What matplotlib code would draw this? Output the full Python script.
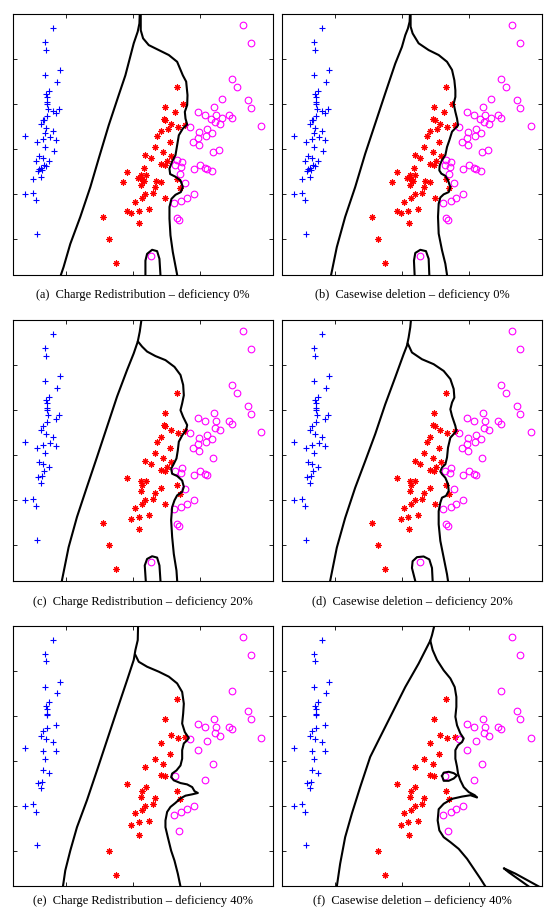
import numpy as np
import matplotlib
matplotlib.use("Agg")
import matplotlib.pyplot as plt

# ---- scatter data (shared by all panels, some points missing at 20% / 40%) ----
blue_x = [0.81, 0.68, 0.70, 0.68, 0.905, 0.86, 0.75, 0.70, 0.72, 0.715, 0.72, 0.73, 0.81, 0.855, 0.90,
          0.72, 0.65, 0.67, 0.62, 0.70, 0.39, 0.69, 0.805, 0.57, 0.65, 0.765, 0.855, 0.69, 0.825, 0.59,
          0.55, 0.655, 0.75, 0.67, 0.62, 0.70, 0.59, 0.64, 0.58, 0.63, 0.50, 0.385, 0.51, 0.555, 0.57]
blue_y = [5.69, 5.37, 5.21, 4.64, 4.76, 4.50, 4.30, 4.22, 4.15, 4.04, 4.01, 3.89, 3.84, 3.80, 3.89,
          3.74, 3.66, 3.64, 3.56, 3.48, 3.29, 3.35, 3.41, 3.17, 3.23, 3.28, 3.21, 3.04, 2.96, 2.85,
          2.74, 2.80, 2.74, 2.65, 2.59, 2.62, 2.56, 2.53, 2.52, 2.39, 2.34, 2.00, 2.04, 1.87, 1.13]

red_x = [2.66, 2.75, 2.48, 2.63, 2.465, 2.49, 2.57, 2.68, 2.53, 2.42, 2.37, 2.555, 2.33, 2.46, 2.19,
         2.27, 2.58, 2.51, 2.42, 2.48, 2.175, 1.92, 2.125, 2.20, 2.08, 2.14, 2.17, 1.85, 2.345, 2.425,
         2.12, 2.33, 2.665, 2.705, 2.30, 2.19, 2.14, 2.49, 2.03, 1.92, 1.98, 2.09, 2.24, 2.10, 1.55,
         1.64, 1.75, 2.79]
red_y = [4.37, 4.01, 3.94, 3.82, 3.67, 3.64, 3.57, 3.50, 3.46, 3.40, 3.30, 3.16, 3.04, 2.93, 2.87,
         2.81, 2.84, 2.75, 2.68, 2.66, 2.59, 2.50, 2.42, 2.42, 2.37, 2.33, 2.30, 2.27, 2.30, 2.27,
         2.20, 2.17, 2.34, 2.15, 2.04, 2.00, 1.92, 1.93, 1.84, 1.64, 1.59, 1.64, 1.67, 1.36, 1.50,
         1.01, 0.47, 3.53]

mag_x = [3.485, 3.565, 3.33, 3.725, 3.775, 3.215, 2.98, 3.075, 3.165, 3.24, 3.33, 3.44, 3.49, 3.23,
         3.305, 2.85, 3.925, 3.105, 2.99, 3.18, 3.09, 2.975, 2.90, 2.99, 3.195, 3.29, 2.66, 2.74, 2.64,
         2.72, 2.92, 3.005, 3.075, 3.105, 3.18, 2.71, 2.78, 2.91, 2.81, 2.73, 2.62, 2.665, 2.69, 2.275,
         3.645, 3.775]
mag_y = [4.56, 4.37, 4.12, 4.10, 3.92, 3.93, 3.82, 3.76, 3.68, 3.76, 3.70, 3.76, 3.70, 3.61,
         3.555, 3.49, 3.51, 3.44, 3.38, 3.37, 3.29, 3.25, 3.16, 3.09, 2.93, 2.98, 2.77, 2.72, 2.66,
         2.60, 2.57, 2.64, 2.585, 2.57, 2.51, 2.46, 2.26, 2.01, 1.93, 1.86, 1.80, 1.47, 1.44, 0.63,
         5.75, 5.35]

# indices of points that are not shown at 20% and (additionally) at 40% deficiency
blue_drop20 = [12, 17, 21, 28, 30, 34, 35, 36, 40]
blue_drop40 = [11, 14, 23, 25, 29, 33]
red_drop20 = [1, 3, 8, 20, 24, 26, 27, 28, 39]
red_drop40 = [4, 5, 10, 15, 16, 17, 22, 29, 37, 44]
mag_drop20 = [2, 8, 10, 25, 26, 34, 35]
mag_drop40 = [1, 18, 19, 20, 22, 23, 27, 29, 30, 31, 33, 36, 41, 43]

# ---- decision boundaries, as (x, y) vertex lists ----
bnd_a = [
    [(2.105, 6.0), (2.10, 5.79), (2.075, 5.61), (2.015, 5.35), (1.89, 4.64), (1.79, 4.20), (1.64, 3.53),
     (1.49, 2.79), (1.365, 2.16), (1.215, 1.50), (1.065, 0.90), (0.965, 0.39), (0.925, 0.215)],
    [(2.12, 6.0), (2.12, 5.64), (2.155, 5.46), (2.24, 5.31), (2.39, 5.20), (2.54, 5.09), (2.665, 4.94),
     (2.75, 4.64), (2.80, 4.50), (2.82, 4.20), (2.815, 3.98), (2.78, 3.83), (2.79, 3.68), (2.815, 3.55),
     (2.75, 3.46), (2.69, 3.31), (2.665, 3.09), (2.64, 2.87), (2.59, 2.73), (2.55, 2.57), (2.56, 2.45),
     (2.64, 2.39), (2.715, 2.31), (2.75, 2.16), (2.72, 2.05), (2.64, 1.99), (2.58, 1.90), (2.55, 1.72),
     (2.55, 1.46), (2.565, 1.09), (2.60, 0.72), (2.665, 0.215)],
    [(2.19, 0.215), (2.19, 0.53), (2.215, 0.68), (2.29, 0.77), (2.365, 0.74), (2.40, 0.57), (2.415, 0.215)],
]
bnd_b = [
    [(2.12, 6.0), (2.115, 5.83), (2.09, 5.68), (2.05, 5.53), (2.0, 5.27), (1.90, 4.90), (1.75, 4.24),
     (1.60, 3.57), (1.45, 2.90), (1.30, 2.16), (1.15, 1.50), (1.025, 0.83), (0.94, 0.215)],
    [(2.13, 6.0), (2.13, 5.72), (2.16, 5.57), (2.25, 5.35), (2.40, 5.20), (2.55, 5.09), (2.675, 4.94),
     (2.75, 4.76), (2.785, 4.53), (2.80, 4.31), (2.80, 4.16), (2.775, 4.01), (2.80, 3.83), (2.825, 3.68),
     (2.84, 3.53), (2.75, 3.39), (2.71, 3.20), (2.675, 3.05), (2.65, 2.87), (2.60, 2.76), (2.565, 2.64),
     (2.56, 2.53), (2.59, 2.46), (2.65, 2.41), (2.69, 2.31), (2.725, 2.16), (2.70, 2.05), (2.625, 2.0),
     (2.575, 1.93), (2.55, 1.79), (2.54, 1.50), (2.55, 1.13), (2.60, 0.76), (2.65, 0.46), (2.675, 0.215)],
    [(2.19, 0.215), (2.18, 0.53), (2.20, 0.70), (2.275, 0.77), (2.36, 0.74), (2.40, 0.57), (2.41, 0.215)],
]
bnd_c = [
    [(2.13, 6.0), (2.105, 5.74), (2.075, 5.52), (2.015, 5.26), (1.915, 4.89), (1.765, 4.30), (1.615, 3.63),
     (1.465, 2.96), (1.315, 2.30), (1.165, 1.63), (1.04, 0.96), (0.94, 0.222)],
    [(2.08, 5.52), (2.14, 5.41), (2.215, 5.30), (2.34, 5.20), (2.49, 5.11), (2.625, 4.96), (2.715, 4.78),
     (2.755, 4.56), (2.765, 4.33), (2.74, 4.15), (2.715, 4.0), (2.755, 3.85), (2.815, 3.67), (2.80, 3.56),
     (2.74, 3.44), (2.69, 3.30), (2.675, 3.11), (2.655, 2.93), (2.615, 2.81), (2.575, 2.70), (2.59, 2.59),
     (2.665, 2.54), (2.74, 2.44), (2.765, 2.30), (2.74, 2.19), (2.665, 2.11), (2.625, 2.0), (2.59, 1.85),
     (2.575, 1.56), (2.59, 1.19), (2.615, 0.81), (2.655, 0.44), (2.665, 0.222)],
    [(2.195, 0.222), (2.18, 0.556), (2.215, 0.70), (2.29, 0.76), (2.365, 0.73), (2.40, 0.556), (2.415, 0.222)],
]
bnd_d = [
    [(2.135, 6.0), (2.125, 5.84), (2.10, 5.61), (2.075, 5.43), (2.025, 5.24), (1.90, 4.73), (1.75, 4.13),
     (1.60, 3.47), (1.45, 2.87), (1.30, 2.28), (1.15, 1.61), (1.025, 0.95), (0.925, 0.21)],
    [(2.09, 5.47), (2.15, 5.28), (2.30, 5.13), (2.475, 5.02), (2.625, 4.87), (2.725, 4.69), (2.775, 4.47),
     (2.785, 4.28), (2.75, 4.17), (2.725, 4.02), (2.75, 3.87), (2.80, 3.65), (2.815, 3.54), (2.775, 3.47),
     (2.725, 3.39), (2.69, 3.17), (2.675, 2.95), (2.65, 2.80), (2.60, 2.73), (2.575, 2.64), (2.60, 2.58),
     (2.65, 2.50), (2.69, 2.36), (2.70, 2.21), (2.66, 2.10), (2.60, 2.06), (2.575, 1.95), (2.55, 1.76),
     (2.55, 1.47), (2.575, 1.10), (2.625, 0.73), (2.675, 0.36), (2.69, 0.21)],
    [(2.20, 0.21), (2.15, 0.50), (2.16, 0.65), (2.225, 0.74), (2.325, 0.755), (2.41, 0.69), (2.45, 0.50),
     (2.46, 0.21)],
]
bnd_e = [
    [(2.08, 6.0), (2.075, 5.68), (2.04, 5.46), (2.015, 5.24), (1.915, 4.79), (1.765, 4.13), (1.615, 3.46),
     (1.465, 2.79), (1.315, 2.13), (1.165, 1.53), (1.065, 1.01), (0.99, 0.57), (0.955, 0.215)],
    [(2.04, 5.35), (2.09, 5.2), (2.215, 5.09), (2.39, 4.98), (2.54, 4.87), (2.665, 4.72), (2.74, 4.53),
     (2.765, 4.27), (2.755, 4.05), (2.74, 3.83), (2.78, 3.64), (2.84, 3.51), (2.815, 3.46), (2.765, 3.39),
     (2.74, 3.24), (2.74, 3.05), (2.715, 2.90), (2.655, 2.79), (2.59, 2.72), (2.575, 2.64), (2.615, 2.57),
     (2.715, 2.51), (2.815, 2.48), (2.89, 2.42), (2.925, 2.33), (2.975, 2.29), (2.89, 2.26), (2.79, 2.23),
     (2.715, 2.17), (2.64, 2.07), (2.565, 1.98), (2.515, 1.87), (2.49, 1.68), (2.49, 1.53), (2.525, 1.31),
     (2.575, 1.01), (2.625, 0.79), (2.675, 0.50), (2.715, 0.215)],
]
bnd_f = [
    [(2.485, 6.0), (2.45, 5.79), (2.425, 5.67), (2.25, 5.16), (2.05, 4.64), (1.85, 4.05), (1.65, 3.46),
     (1.525, 3.09), (1.375, 2.42), (1.25, 1.83), (1.15, 1.31), (1.075, 0.72), (1.025, 0.215)],
    [(2.425, 5.67), (2.46, 5.46), (2.525, 5.24), (2.625, 5.01), (2.725, 4.83), (2.79, 4.64), (2.815, 4.42),
     (2.815, 4.20), (2.80, 3.98), (2.825, 3.79), (2.875, 3.61), (2.925, 3.50), (2.90, 3.42), (2.84, 3.35),
     (2.80, 3.24), (2.80, 3.05), (2.825, 2.87), (2.84, 2.72), (2.875, 2.57), (2.925, 2.42), (3.0, 2.31),
     (3.09, 2.24), (3.125, 2.19), (3.025, 2.24), (2.90, 2.21), (2.75, 2.16), (2.625, 2.05), (2.55, 1.93),
     (2.535, 1.68), (2.56, 1.46), (2.625, 1.31), (2.725, 1.20), (2.85, 1.05), (2.975, 0.83), (3.075, 0.61),
     (3.175, 0.39), (3.25, 0.215)],
    [(2.60, 2.67), (2.625, 2.74), (2.70, 2.76), (2.775, 2.73), (2.825, 2.68), (2.775, 2.61), (2.70, 2.56),
     (2.625, 2.56), (2.60, 2.67)],
    [(3.90, 0.215), (3.60, 0.53), (3.525, 0.62), (3.70, 0.50), (4.05, 0.215)],
]

captions = [
    "(a)  Charge Redistribution \u2013 deficiency 0%",
    "(b)  Casewise deletion \u2013 deficiency 0%",
    "(c)  Charge Redistribution \u2013 deficiency 20%",
    "(d)  Casewise deletion \u2013 deficiency 20%",
    "(e)  Charge Redistribution \u2013 deficiency 40%",
    "(f)  Casewise deletion \u2013 deficiency 40%",
]
boundaries = [bnd_a, bnd_b, bnd_c, bnd_d, bnd_e, bnd_f]
levels = [0, 0, 20, 20, 40, 40]


def keep(n, level, drop20, drop40):
    dropped = set()
    if level >= 20:
        dropped |= set(drop20)
    if level >= 40:
        dropped |= set(drop40)
    return [i for i in range(n) if i not in dropped]


W, H = 553, 909
fig = plt.figure(figsize=(W / 100, H / 100), dpi=100)

lefts = [12.5, 281.7]
tops = [14, 320, 625.7]
size = 260.5
cap_y = [295, 601.5, 901]

for k in range(6):
    row, col = k // 2, k % 2
    ax = fig.add_axes([lefts[col] / W, 1 - (tops[row] + size) / H, size / W, size / H])
    lv = levels[k]

    idx = keep(len(blue_x), lv, blue_drop20, blue_drop40)
    ax.plot(np.array(blue_x)[idx], np.array(blue_y)[idx], '+', color='blue', ms=4.5, mew=0.8)
    idx = keep(len(red_x), lv, red_drop20, red_drop40)
    ax.plot(np.array(red_x)[idx], np.array(red_y)[idx], marker=(8, 2, 0), ls='none',
            color='red', ms=4.5, mew=0.8)
    idx = keep(len(mag_x), lv, mag_drop20, mag_drop40)
    ax.plot(np.array(mag_x)[idx], np.array(mag_y)[idx], 'o', mfc='none', mec='magenta', ms=4.8, mew=0.8)

    for path in boundaries[k]:
        p = np.array(path)
        ax.plot(p[:, 0], p[:, 1], color='black', lw=1.5)

    ax.set_xlim(0.2, 4.1)
    ax.set_ylim(6.0 - 780 / 135, 6.0)
    ax.set_xticks([1, 2, 3])
    ax.set_yticks([1, 2, 3, 4, 5])
    ax.tick_params(direction='in', top=True, right=True, length=3, width=0.6,
                   labelbottom=False, labelleft=False)
    for s in ax.spines.values():
        s.set_linewidth(0.8)

    cx = (lefts[col] + size / 2) / W
    fig.text(cx, 1 - cap_y[row] / H, captions[k], ha='center', va='center',
             family='Liberation Serif', fontsize=8.9)

fig.savefig("out.png", dpi=100)
